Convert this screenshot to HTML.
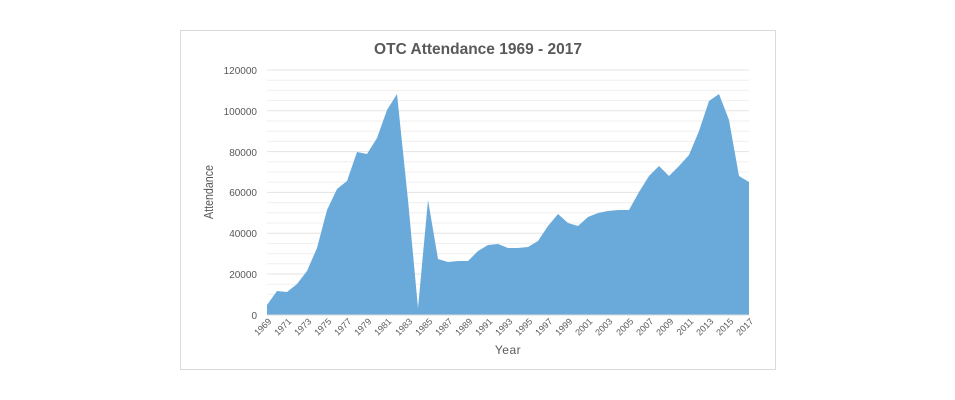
<!DOCTYPE html>
<html><head><style>
body{margin:0;background:#fff;}
svg{display:block;font-family:"Liberation Sans",sans-serif;}
</style></head><body>
<svg width="955" height="400" viewBox="0 0 955 400">
<rect x="180.5" y="30.5" width="595" height="339" fill="#fff" stroke="#d9d9d9"/>
<text x="478" y="54" text-anchor="middle" font-size="15.5" font-weight="bold" fill="#595959">OTC Attendance 1969 - 2017</text>
<g stroke="#efefef" stroke-width="1">
<line x1="267" x2="749" y1="70" y2="70" stroke="#e3e3e3"/><line x1="267" x2="749" y1="80.2" y2="80.2"/><line x1="267" x2="749" y1="90.4" y2="90.4"/><line x1="267" x2="749" y1="100.6" y2="100.6"/>
<line x1="267" x2="749" y1="110.8" y2="110.8" stroke="#e3e3e3"/><line x1="267" x2="749" y1="121" y2="121"/><line x1="267" x2="749" y1="131.2" y2="131.2"/><line x1="267" x2="749" y1="141.4" y2="141.4"/>
<line x1="267" x2="749" y1="151.6" y2="151.6" stroke="#e3e3e3"/><line x1="267" x2="749" y1="161.8" y2="161.8"/><line x1="267" x2="749" y1="172" y2="172"/><line x1="267" x2="749" y1="182.2" y2="182.2"/>
<line x1="267" x2="749" y1="192.4" y2="192.4" stroke="#e3e3e3"/><line x1="267" x2="749" y1="202.6" y2="202.6"/><line x1="267" x2="749" y1="212.8" y2="212.8"/><line x1="267" x2="749" y1="223" y2="223"/>
<line x1="267" x2="749" y1="233.2" y2="233.2" stroke="#e3e3e3"/><line x1="267" x2="749" y1="243.4" y2="243.4"/><line x1="267" x2="749" y1="253.6" y2="253.6"/><line x1="267" x2="749" y1="263.8" y2="263.8"/>
<line x1="267" x2="749" y1="274" y2="274" stroke="#e3e3e3"/><line x1="267" x2="749" y1="284.2" y2="284.2"/><line x1="267" x2="749" y1="294.4" y2="294.4"/><line x1="267" x2="749" y1="304.6" y2="304.6"/>
</g>
<polygon fill="#6aaadb" points="267,315 267,305 277,291 287,292 297,284 307,271 317,248 327,210 337,189 347,181 357,152 367,154 377,138 387,110 397,94 408,200 418,308 428,200 438,259 448,262 458,261 468,261 478,251 488,245 498,244 508,248 518,248 528,247 538,241 548,226 558,214 568,223 578,226 588,217 598,213 608,211 618,210 629,210 639,192 649,176 659,166 669,176 679,166 689,155 699,131 709,101 719,94 729,120 739,176 749,182 749,315"/>
<line x1="267" x2="749" y1="315" y2="315" stroke="#d9d9d9"/>
<g font-size="10" fill="#595959" text-anchor="end">
<text x="257" y="74">120000</text><text x="257" y="115">100000</text><text x="257" y="156">80000</text>
<text x="257" y="196">60000</text><text x="257" y="237">40000</text><text x="257" y="278">20000</text><text x="257" y="319">0</text>
</g>
<text transform="translate(213,192) rotate(-90)" text-anchor="middle" font-size="12.5" fill="#595959" textLength="54" lengthAdjust="spacingAndGlyphs">Attendance</text>
<g font-size="9" fill="#595959" text-anchor="end">
<text transform="translate(272,322) rotate(-45)">1969</text><text transform="translate(292,322) rotate(-45)">1971</text><text transform="translate(312,322) rotate(-45)">1973</text><text transform="translate(332,322) rotate(-45)">1975</text><text transform="translate(352,322) rotate(-45)">1977</text><text transform="translate(372,322) rotate(-45)">1979</text><text transform="translate(392,322) rotate(-45)">1981</text><text transform="translate(413,322) rotate(-45)">1983</text><text transform="translate(433,322) rotate(-45)">1985</text><text transform="translate(453,322) rotate(-45)">1987</text><text transform="translate(473,322) rotate(-45)">1989</text><text transform="translate(493,322) rotate(-45)">1991</text><text transform="translate(513,322) rotate(-45)">1993</text><text transform="translate(533,322) rotate(-45)">1995</text><text transform="translate(553,322) rotate(-45)">1997</text><text transform="translate(573,322) rotate(-45)">1999</text><text transform="translate(593,322) rotate(-45)">2001</text><text transform="translate(613,322) rotate(-45)">2003</text><text transform="translate(634,322) rotate(-45)">2005</text><text transform="translate(654,322) rotate(-45)">2007</text><text transform="translate(674,322) rotate(-45)">2009</text><text transform="translate(694,322) rotate(-45)">2011</text><text transform="translate(714,322) rotate(-45)">2013</text><text transform="translate(734,322) rotate(-45)">2015</text><text transform="translate(754,322) rotate(-45)">2017</text>
</g>
<text x="508" y="354" text-anchor="middle" font-size="12" fill="#595959" letter-spacing="0.5">Year</text>
</svg>
</body></html>
